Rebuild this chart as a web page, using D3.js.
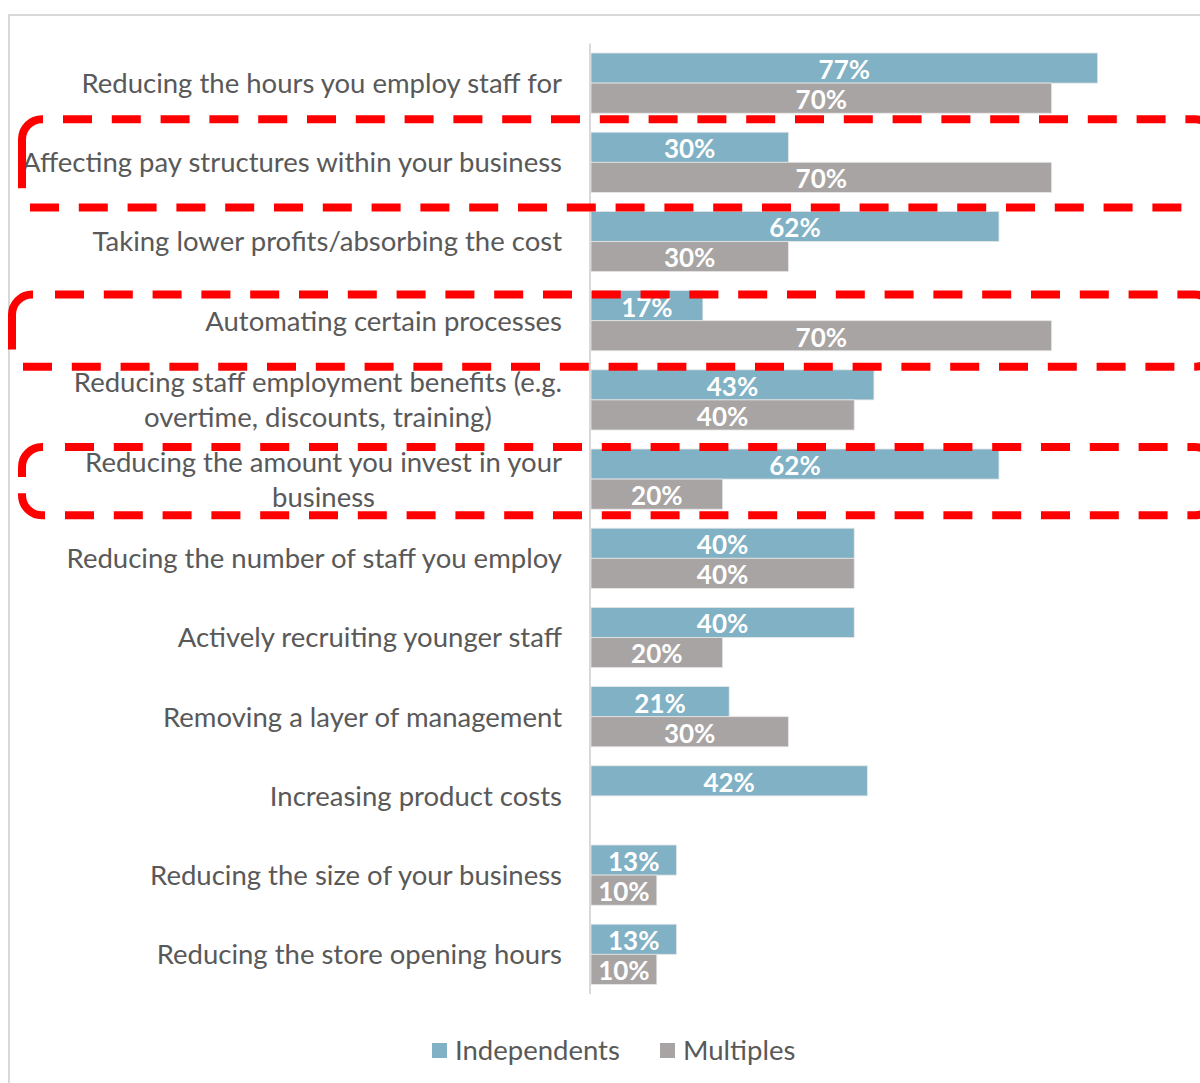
<!DOCTYPE html>
<html>
<head>
<meta charset="utf-8">
<script src="https://cdn.jsdelivr.net/npm/d3@7"></script>
<style>
  html, body { margin: 0; padding: 0; background: #fff; }
  svg { display: block; }
</style>
</head>
<body>
<svg id="chart" width="1200" height="1083"></svg>
<script>
// Survey responses: share of independents vs multiples taking each action
const categories = [
  "Reducing the hours you employ staff for",
  "Affecting pay structures within your business",
  "Taking lower profits/absorbing the cost",
  "Automating certain processes",
  "Reducing staff employment benefits (e.g.\novertime, discounts, training)",
  "Reducing the amount you invest in your\nbusiness",
  "Reducing the number of staff you employ",
  "Actively recruiting younger staff",
  "Removing a layer of management",
  "Increasing product costs",
  "Reducing the size of your business",
  "Reducing the store opening hours"
];
const independents = [77, 30, 62, 17, 43, 62, 40, 40, 21, 42, 13, 13];
const multiples    = [70, 70, 30, 70, 40, 20, 40, 20, 30, null, 10, 10];
const seriesNames  = ["Independents", "Multiples"];
const seriesColors = ["#80b1c4", "#a8a4a3"];
// Rows highlighted with a hand-drawn dashed frame
const highlightedRows = [1, 3, 5];

const FONT = "Lato, 'Open Sans', sans-serif";
const svg = d3.select("#chart");

// Outer frame
svg.append("rect")
  .attr("x", 9).attr("y", 15).attr("width", 1220).attr("height", 1100)
  .attr("fill", "none").attr("stroke", "#d9d9d9").attr("stroke-width", 2);

const axisX = 591;
const x = d3.scaleLinear().domain([0, 100]).range([axisX, axisX + 658]);
const y = d3.scaleBand().domain(categories).range([43.5, 43.5 + 79.2 * 12])
  .paddingInner(0.24).paddingOuter(0.12);
const ySub = d3.scaleBand().domain(seriesNames).range([0, y.bandwidth()]);

const rows = categories.map((c, i) => ({
  cat: c,
  values: [independents[i], multiples[i]]
}));

// Bars with centred value labels
const g = svg.append("g");
rows.forEach(r => {
  r.values.forEach((v, k) => {
    if (v == null) return;
    const yy = y(r.cat) + ySub(seriesNames[k]);
    g.append("rect")
      .attr("x", x(0)).attr("y", yy)
      .attr("width", x(v) - x(0)).attr("height", ySub.bandwidth())
      .attr("fill", seriesColors[k])
      .attr("stroke", "#e6e6e6").attr("stroke-width", 0.8);
    g.append("text")
      .attr("x", (x(0) + x(v)) / 2).attr("y", yy + ySub.bandwidth() / 2)
      .attr("dy", "0.42em")
      .attr("text-anchor", "middle")
      .attr("font-family", FONT).attr("font-weight", "bold")
      .attr("font-size", 26).attr("fill", "#ffffff")
      .text(v + "%");
  });
});

// Vertical category axis line
svg.append("line")
  .attr("x1", axisX - 1).attr("x2", axisX - 1)
  .attr("y1", y.range()[0]).attr("y2", y.range()[1])
  .attr("stroke", "#d9d9d9").attr("stroke-width", 2);

// Category labels (wrapped labels are centred under their widest line)
const labelRight = 562;
const labelSize = 27.5;
const lineGap = 35;
categories.forEach(c => {
  const lines = c.split("\n");
  const cy = y(c) + y.bandwidth() / 2;
  const t = svg.append("text")
    .attr("font-family", FONT).attr("font-size", labelSize).attr("fill", "#595959");
  if (lines.length === 1) {
    t.attr("x", labelRight).attr("y", cy).attr("dy", "0.36em")
      .attr("text-anchor", "end").text(c);
  } else {
    const probe = svg.append("text").attr("font-family", FONT)
      .attr("font-size", labelSize).text(lines[0]);
    const w = probe.node().getComputedTextLength();
    probe.remove();
    const cx = labelRight - w / 2;
    lines.forEach((ln, j) => {
      t.append("tspan")
        .attr("x", cx).attr("y", cy + (j - (lines.length - 1) / 2) * lineGap)
        .attr("dy", "0.36em").attr("text-anchor", "middle").text(ln);
    });
  }
});

// Dashed highlight frames, sketched around the highlighted rows.
// Each frame: left edge, vertical offsets from the row's bars, phase of the
// dashes on the top / bottom edges, and the solid pieces at the left corners.
const frameStyle = { color: "#ff0000", width: 8, dash: "29 19.8", rx: 20, right: 1215 };
const frameShapes = [
  { x0: 22, dTop: -13, dBottom: 15, topStart: 63, bottomStart: 30,
    tl: 49, bl: null },
  { x0: 12, dTop: 4, dBottom: 16, topStart: 55, bottomStart: 23,
    tl: 35, bl: null },
  { x0: 22, dTop: -2, dBottom: 6, topStart: 65, bottomStart: 65,
    tl: 10, bl: 2 }
];
const frames = svg.append("g").attr("fill", "none")
  .attr("stroke", frameStyle.color).attr("stroke-width", frameStyle.width);
highlightedRows.forEach((rowIdx, n) => {
  const f = frameShapes[n];
  const cat = categories[rowIdx];
  const y0 = y(cat) + f.dTop;
  const y1 = y(cat) + y.bandwidth() + f.dBottom;
  const r = frameStyle.rx, xr = frameStyle.right, ym = (y0 + y1) / 2;
  // top edge and right corner
  frames.append("path")
    .attr("d", `M${f.topStart},${y0} H${xr - r} A${r},${r} 0 0 1 ${xr},${y0 + r} V${ym}`)
    .attr("stroke-dasharray", frameStyle.dash);
  // bottom edge and right corner
  frames.append("path")
    .attr("d", `M${f.bottomStart},${y1} H${xr - r} A${r},${r} 0 0 0 ${xr},${y1 - r} V${ym}`)
    .attr("stroke-dasharray", frameStyle.dash);
  // top-left corner with a solid run down the left edge
  frames.append("path")
    .attr("d", `M${f.x0},${y0 + r + f.tl} V${y0 + r} A${r},${r} 0 0 1 ${f.x0 + r},${y0} H${f.x0 + r + 1}`);
  // bottom-left corner, where it is drawn
  if (f.bl != null) {
    frames.append("path")
      .attr("d", `M${f.x0},${y1 - r - f.bl} V${y1 - r} A${r},${r} 0 0 0 ${f.x0 + r},${y1} H${f.x0 + r + 3}`);
  }
});

// Legend
const legend = svg.append("g");
const legendX = [432, 660];
seriesNames.forEach((s, k) => {
  legend.append("rect")
    .attr("x", legendX[k]).attr("y", 1043)
    .attr("width", 15).attr("height", 15).attr("fill", seriesColors[k]);
  legend.append("text")
    .attr("x", legendX[k] + 23).attr("y", 1050).attr("dy", "0.36em")
    .attr("font-family", FONT).attr("font-size", labelSize).attr("fill", "#595959")
    .text(s);
});
</script>
</body>
</html>
